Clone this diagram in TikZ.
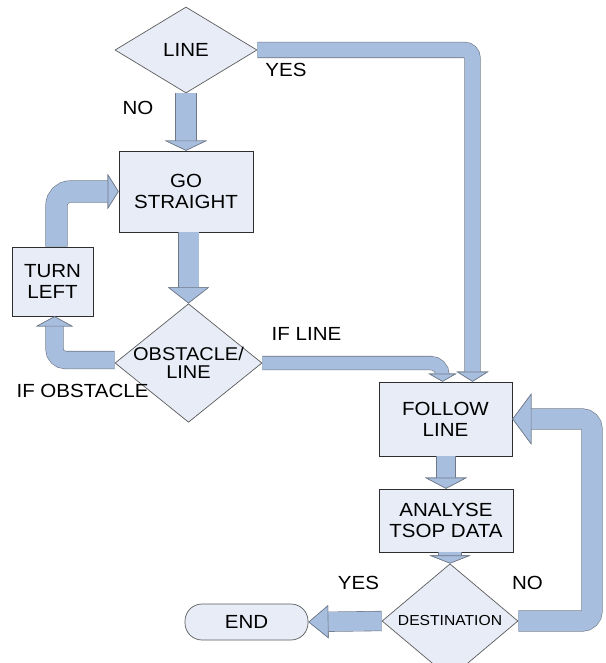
\documentclass[tikz,border=0pt]{standalone}
\usepackage{fontspec}
\setmainfont{Liberation Sans}[FakeStretch=1.08]
\usetikzlibrary{shapes.geometric,arrows.meta}

\definecolor{boxfill}{HTML}{E7ECF7}
\definecolor{boxline}{HTML}{2E2E2E}
\definecolor{diamline}{HTML}{5C5C5C}
\definecolor{arrowfill}{HTML}{A7BEDF}
\definecolor{arrowline}{HTML}{6F7886}

\newcommand{\lblfont}{\fontsize{19}{21}\selectfont}

\tikzset{
  proc/.style={rectangle, draw=boxline, fill=boxfill, line width=0.7pt,
    inner sep=0pt, align=center, font=\lblfont},
  decide/.style={diamond, draw=diamline, fill=boxfill, line width=0.7pt,
    inner sep=0pt, align=center, font=\lblfont},
  terminal/.style={rectangle, rounded corners=17pt, draw=diamline, fill=boxfill,
    line width=0.7pt, inner sep=0pt, font=\lblfont},
  lbl/.style={inner sep=0pt, font=\lblfont},
  % block arrow: shaft width, head length, head width
  flow/.style n args={3}{line width=#1, draw=arrowfill,
    preaction={draw=arrowline, line width=#1+1.2pt},
    -{Triangle[length=#2, width=#3, line width=0.6pt, color=arrowline, fill=arrowfill]}},
}

\begin{document}
\begin{tikzpicture}[x=1pt, y=-1pt]
  \fill[white] (0,0) rectangle (605,663);
  \useasboundingbox (0,0) rectangle (605,663);

  % steps and decisions
  \node[decide, minimum width=142pt, minimum height=86pt] (line) at (186,50) {LINE};
  \node[proc, minimum width=134pt, minimum height=81pt] (go) at (186,191.5) {GO\\STRAIGHT};
  \node[proc, minimum width=81pt, minimum height=69pt] (turn) at (52.5,281.5) {TURN\\LEFT};
  \node[decide, inner sep=-6pt, minimum width=147pt, minimum height=94pt,
        font=\fontsize{18.5}{18.5}\selectfont] (obs) at (188.5,363) {OBSTACLE/\\LINE};
  \node[proc, minimum width=133pt, minimum height=74pt] (follow) at (445.5,419) {FOLLOW\\LINE};
  \node[proc, minimum width=134pt, minimum height=63pt] (analyse) at (446,520.5) {ANALYSE\\TSOP DATA};
  \node[decide, minimum width=136pt, minimum height=82pt,
        font=\fontsize{14.5}{17}\selectfont] (dest) at (450,621) {DESTINATION};
  \node[terminal, minimum width=123pt, minimum height=36pt] (end) at (246.5,622) {END};

  % turning point of the return loop
  \coordinate (loopR) at (592,419);

  % connectors
  \draw[flow={15pt}{10pt}{32pt}, rounded corners=8pt]
    (line.east) -| ([xshift=27pt]follow.north);
  \draw[flow={20pt}{10pt}{42pt}] (line.south) -- (go.north);
  \draw[flow={20pt}{16pt}{41pt}] (go.south -| obs.north) -- (obs.north);
  \draw[flow={17pt}{10pt}{37pt}, rounded corners=11pt]
    ([yshift=3pt]obs.west) -| ([xshift=2pt]turn.south);
  \draw[flow={21pt}{11pt}{35pt}, rounded corners=14pt]
    ([xshift=4pt]turn.north) |- (go.west);
  \draw[flow={13pt}{8pt}{28pt}, rounded corners=12pt]
    (obs.east) -| ([xshift=-3pt]follow.north);
  \draw[flow={18pt}{11pt}{42pt}] (follow.south -| analyse.north) -- (analyse.north);
  \draw[flow={22pt}{8pt}{41pt}] (analyse.south -| dest.north) -- (dest.north);
  \draw[flow={19pt}{20pt}{33pt}] (dest.west) -- (end.east);
  \draw[flow={20pt}{19pt}{51pt}]
    (dest.east) [rounded corners=10pt] -| (loopR) [sharp corners] -- (follow.east);

  % branch labels
  \node[lbl] (yesTop) at (286,69.5) {YES};
  \node[lbl] (noTop) at (138,108) {NO};
  \node[lbl] (ifLine) at (306.5,333.5) {IF LINE};
  \node[lbl] (ifObs) at (82.5,390.5) {IF OBSTACLE};
  \node[lbl] (yesEnd) at (358.5,583) {YES};
  \node[lbl] (noLoop) at (527.5,583) {NO};
\end{tikzpicture}
\end{document}
